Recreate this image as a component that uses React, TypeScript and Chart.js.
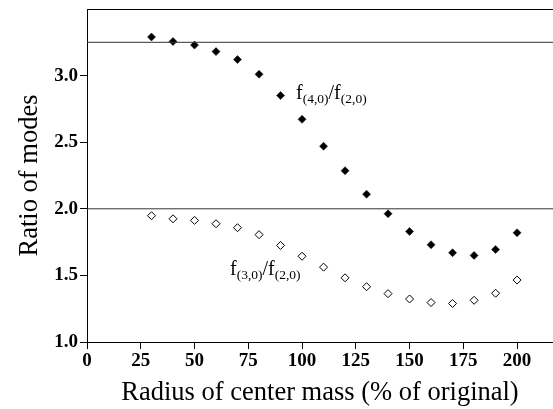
import React, { useEffect, useRef } from "react";
import { Chart, registerables } from "chart.js";

Chart.register(...registerables);

const radius = [30, 40, 50, 60, 70, 80, 90, 100, 110, 120, 130, 140, 150, 160, 170, 180, 190, 200];
const ratio40 = [3.29, 3.256, 3.229, 3.18, 3.12, 3.01, 2.85, 2.672, 2.47, 2.286, 2.11, 1.963, 1.83, 1.73, 1.67, 1.65, 1.694, 1.82];
const ratio30 = [1.948, 1.925, 1.913, 1.888, 1.858, 1.806, 1.725, 1.644, 1.562, 1.482, 1.415, 1.363, 1.323, 1.296, 1.289, 1.313, 1.366, 1.465];
const refLines = [3.25, 2.0];
const xTicks = [0, 25, 50, 75, 100, 125, 150, 175, 200];
const yTicks = [1.0, 1.5, 2.0, 2.5, 3.0];
const xMin = 0;
const xMax = 216.7;
const yMin = 1.0;
const yMax = 3.5;

const SERIF = '"Liberation Serif", "Times New Roman", serif';

const annotPlugin = {
  id: "annot",
  afterDraw(chart: any) {
    const { ctx, chartArea, scales } = chart;
    ctx.save();
    ctx.strokeStyle = "#000";
    ctx.lineWidth = 1;
    ctx.beginPath();
    ctx.moveTo(chartArea.left, chartArea.top + 0.5);
    ctx.lineTo(chartArea.right, chartArea.top + 0.5);
    ctx.stroke();

    const drawLabel = (x: number, y: number, a: string, b: string) => {
      ctx.fillStyle = "#000";
      ctx.textBaseline = "alphabetic";
      ctx.textAlign = "left";
      let cx = x;
      const big = `20px ${SERIF}`;
      const small = `13.5px ${SERIF}`;
      ctx.font = big;
      ctx.fillText("f", cx, y);
      cx += ctx.measureText("f").width;
      ctx.font = small;
      ctx.fillText(a, cx, y + 4);
      cx += ctx.measureText(a).width;
      ctx.font = big;
      ctx.fillText("/f", cx, y);
      cx += ctx.measureText("/f").width;
      ctx.font = small;
      ctx.fillText(b, cx, y + 4);
    };
    const xs = scales.x;
    const ys = scales.y;
    drawLabel(xs.getPixelForValue(97.2), ys.getPixelForValue(2.828), "(4,0)", "(2,0)");
    drawLabel(xs.getPixelForValue(66.5), ys.getPixelForValue(1.502), "(3,0)", "(2,0)");
    ctx.restore();
  },
};

export default function App() {
  const ref = useRef<HTMLCanvasElement | null>(null);
  useEffect(() => {
    document.body.style.margin = "0";
    const canvas = ref.current!;
    const chart = new Chart(canvas, {
      type: "scatter",
      data: {
        datasets: [
          {
            type: "line",
            data: [
              { x: xMin, y: refLines[0] },
              { x: xMax, y: refLines[0] },
            ],
            borderColor: "#333",
            borderWidth: 1,
            pointRadius: 0,
          } as any,
          {
            type: "line",
            data: [
              { x: xMin, y: refLines[1] },
              { x: xMax, y: refLines[1] },
            ],
            borderColor: "#333",
            borderWidth: 1,
            pointRadius: 0,
          } as any,
          {
            label: "f(4,0)/f(2,0)",
            data: radius.map((r, i) => ({ x: r, y: ratio40[i] })),
            pointStyle: "rectRot",
            pointRadius: 4,
            backgroundColor: "#000",
            borderColor: "#000",
            borderWidth: 0.5,
          },
          {
            label: "f(3,0)/f(2,0)",
            data: radius.map((r, i) => ({ x: r, y: ratio30[i] })),
            pointStyle: "rectRot",
            pointRadius: 4,
            backgroundColor: "#fff",
            borderColor: "#000",
            borderWidth: 1,
          },
        ],
      },
      options: {
        animation: false,
        responsive: false,
        layout: { autoPadding: false, padding: { top: 9, right: 0, left: 0, bottom: 0 } },
        plugins: { legend: { display: false }, tooltip: { enabled: false } },
        scales: {
          x: {
            type: "linear",
            min: xMin,
            max: xMax,
            ticks: {
              autoSkip: false,
              color: "#000",
              font: { family: SERIF, size: 19, weight: "bold" },
              padding: 1,
              maxRotation: 0,
              callback: (v: any) => String(v),
            },
            afterBuildTicks: (s: any) => {
              s.ticks = xTicks.map((v) => ({ value: v }));
            },
            afterFit: (s: any) => {
              s.height = 67;
              s.paddingLeft = 0;
              s.paddingRight = 0;
            },
            grid: {
              drawOnChartArea: false,
              drawTicks: true,
              tickLength: 7,
              tickColor: "#000",
              color: "#000",
            },
            border: { color: "#000", width: 1 },
            title: {
              display: true,
              text: "Radius of center mass (% of original)",
              color: "#000",
              font: { family: SERIF, size: 26.5 },
              padding: { top: 4, bottom: 0 },
            },
          },
          y: {
            type: "linear",
            min: yMin,
            max: yMax,
            ticks: {
              autoSkip: false,
              color: "#000",
              font: { family: SERIF, size: 19, weight: "bold" },
              padding: 2,
              callback: (v: any) => Number(v).toFixed(1),
            },
            afterBuildTicks: (s: any) => {
              s.ticks = yTicks.map((v) => ({ value: v }));
            },
            afterFit: (s: any) => {
              s.width = 87;
              s.paddingTop = 0;
              s.paddingBottom = 0;
            },
            grid: {
              drawOnChartArea: false,
              drawTicks: true,
              tickLength: 7,
              tickColor: "#000",
              color: "#000",
            },
            border: { color: "#000", width: 1 },
            title: {
              display: true,
              text: "Ratio of modes",
              color: "#000",
              font: { family: SERIF, size: 26.5 },
              padding: { top: 14, bottom: 0 },
            },
          },
        },
      },
      plugins: [annotPlugin],
    } as any);
    return () => chart.destroy();
  }, []);
  return <canvas ref={ref} width={553} height={409} style={{ display: "block" }} />;
}
